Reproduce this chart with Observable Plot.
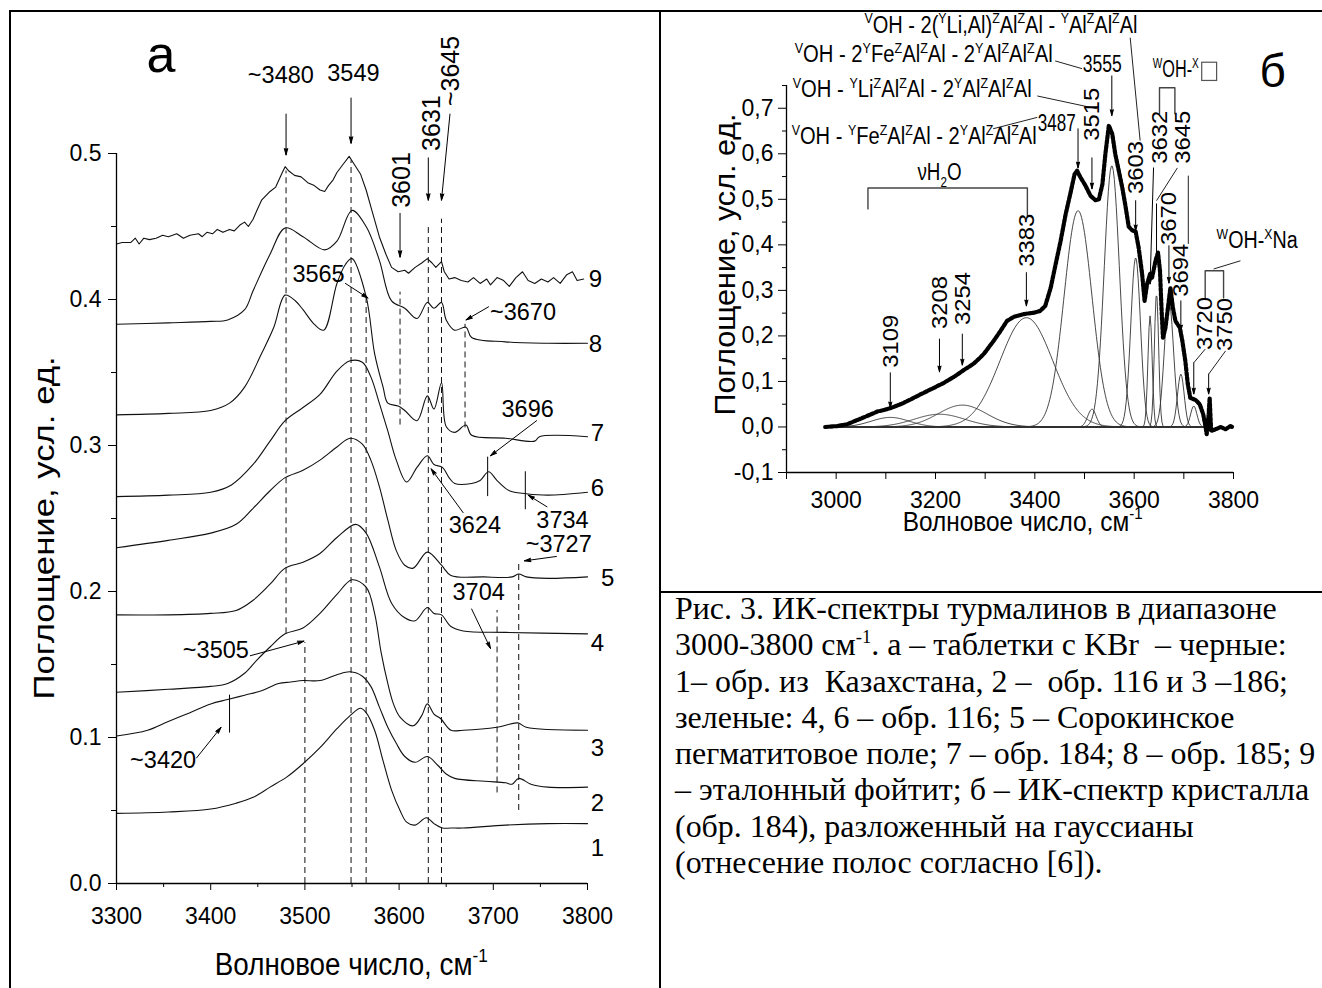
<!DOCTYPE html>
<html>
<head>
<meta charset="utf-8">
<script src="https://cdn.jsdelivr.net/npm/d3@7"></script>
<script src="https://cdn.jsdelivr.net/npm/@observablehq/plot@0.6"></script>
<style>
  body { margin: 0; background: #fff; overflow: hidden; }
  #page { position: relative; width: 1322px; height: 988px; overflow: hidden; background: #fff; }
  .rule { position: absolute; background: #000; }
  #caption {
    position: absolute; left: 675px; top: 591px;
    font-family: "Liberation Serif", "Times New Roman", serif;
    font-size: 31px; line-height: 36.3px; white-space: pre; color: #000;
    transform: scaleX(1.03); transform-origin: left top;
  }
  #caption sup { font-size: 18px; line-height: 0; vertical-align: 12px; }
</style>
</head>
<body>
<div id="page">
  <div id="caption">Рис. 3. ИК-спектры турмалинов в диапазоне
3000-3800 см<sup>-1</sup>. а – таблетки с KBr  – черные:
1– обр. из  Казахстана, 2 –  обр. 116 и 3 –186;
зеленые: 4, 6 – обр. 116; 5 – Сорокинское
пегматитовое поле; 7 – обр. 184; 8 – обр. 185; 9
– эталонный фойтит; б – ИК-спектр кристалла
(обр. 184), разложенный на гауссианы
(отнесение полос согласно [6]).</div>
</div>
<script>
// ---------- Panel а: IR spectra of tourmalines in KBr pellets (wavenumber, absorbance) ----------
const spectrum1 = [[3300,0.048],[3355,0.049],[3400,0.051],[3427,0.055],[3445,0.059],[3463,0.066],[3481,0.073],[3498,0.082],[3516,0.093],[3534,0.106],[3548,0.115],[3559,0.120],[3565,0.117],[3574,0.105],[3583,0.084],[3592,0.064],[3601,0.050],[3608,0.042],[3617,0.040],[3629,0.045],[3637,0.041],[3646,0.038],[3655,0.038],[3668,0.038],[3713,0.040],[3758,0.041],[3800,0.041]];
const spectrum2 = [[3300,0.101],[3333,0.105],[3355,0.111],[3378,0.117],[3400,0.123],[3418,0.126],[3436,0.129],[3454,0.132],[3472,0.137],[3485,0.138],[3498,0.139],[3516,0.139],[3534,0.143],[3548,0.145],[3561,0.142],[3570,0.135],[3579,0.121],[3588,0.107],[3597,0.096],[3606,0.087],[3617,0.083],[3630,0.087],[3641,0.081],[3650,0.075],[3659,0.072],[3691,0.070],[3713,0.069],[3720,0.068],[3727,0.072],[3740,0.068],[3758,0.066],[3800,0.066]];
const spectrum3 = [[3300,0.131],[3355,0.133],[3400,0.135],[3418,0.137],[3436,0.144],[3449,0.153],[3463,0.162],[3479,0.171],[3498,0.175],[3516,0.185],[3534,0.198],[3550,0.208],[3565,0.203],[3574,0.185],[3581,0.158],[3588,0.137],[3594,0.123],[3601,0.114],[3615,0.108],[3624,0.115],[3630,0.123],[3637,0.116],[3644,0.113],[3655,0.105],[3668,0.105],[3704,0.107],[3726,0.110],[3735,0.107],[3800,0.105]];
const spectrum4 = [[3300,0.184],[3355,0.184],[3400,0.185],[3427,0.187],[3445,0.194],[3463,0.205],[3479,0.216],[3498,0.220],[3516,0.226],[3534,0.237],[3554,0.246],[3565,0.240],[3579,0.217],[3592,0.192],[3606,0.182],[3617,0.180],[3630,0.189],[3637,0.185],[3645,0.184],[3655,0.176],[3668,0.173],[3713,0.172],[3800,0.171]];
const spectrum5 = [[3300,0.230],[3355,0.235],[3400,0.240],[3427,0.246],[3445,0.257],[3463,0.269],[3479,0.278],[3498,0.283],[3516,0.290],[3534,0.299],[3548,0.305],[3561,0.301],[3570,0.290],[3579,0.272],[3588,0.249],[3597,0.228],[3606,0.218],[3615,0.216],[3630,0.227],[3645,0.218],[3655,0.211],[3690,0.210],[3720,0.210],[3727,0.212],[3735,0.210],[3758,0.209],[3800,0.210]];
const spectrum6 = [[3300,0.265],[3355,0.266],[3400,0.268],[3422,0.273],[3445,0.287],[3463,0.303],[3479,0.317],[3498,0.326],[3516,0.335],[3534,0.351],[3548,0.358],[3561,0.357],[3570,0.347],[3579,0.329],[3588,0.310],[3597,0.290],[3608,0.275],[3619,0.285],[3630,0.293],[3637,0.287],[3646,0.285],[3653,0.278],[3659,0.274],[3677,0.274],[3686,0.276],[3695,0.282],[3704,0.276],[3717,0.269],[3735,0.267],[3758,0.266],[3800,0.268]];
const spectrum7 = [[3300,0.321],[3355,0.322],[3400,0.324],[3420,0.329],[3436,0.340],[3454,0.363],[3467,0.381],[3479,0.403],[3490,0.399],[3498,0.393],[3510,0.383],[3520,0.379],[3534,0.411],[3543,0.424],[3550,0.428],[3565,0.402],[3574,0.363],[3583,0.340],[3588,0.329],[3599,0.327],[3606,0.324],[3619,0.317],[3630,0.334],[3637,0.325],[3645,0.343],[3650,0.313],[3659,0.309],[3671,0.314],[3677,0.307],[3713,0.305],[3744,0.303],[3749,0.306],[3800,0.306]];
const spectrum8 = [[3300,0.383],[3355,0.384],[3400,0.385],[3418,0.386],[3436,0.393],[3445,0.406],[3463,0.431],[3479,0.449],[3498,0.443],[3521,0.434],[3534,0.440],[3550,0.461],[3565,0.450],[3579,0.427],[3592,0.399],[3606,0.394],[3619,0.387],[3630,0.398],[3637,0.394],[3645,0.398],[3650,0.386],[3659,0.379],[3671,0.381],[3677,0.374],[3713,0.371],[3758,0.370],[3800,0.370]];
const spectrum9 = [[3300,0.438],[3306,0.439],[3315,0.439],[3320,0.442],[3324,0.438],[3329,0.442],[3335,0.441],[3342,0.442],[3349,0.444],[3355,0.443],[3364,0.445],[3371,0.442],[3378,0.444],[3387,0.445],[3391,0.443],[3396,0.446],[3402,0.445],[3407,0.448],[3413,0.446],[3420,0.448],[3425,0.447],[3431,0.451],[3436,0.453],[3440,0.450],[3445,0.455],[3449,0.461],[3454,0.468],[3463,0.474],[3469,0.477],[3476,0.487],[3479,0.491],[3483,0.488],[3489,0.485],[3496,0.484],[3503,0.480],[3510,0.478],[3516,0.475],[3521,0.474],[3525,0.478],[3530,0.482],[3534,0.487],[3541,0.493],[3547,0.498],[3552,0.493],[3559,0.486],[3565,0.475],[3572,0.459],[3579,0.443],[3586,0.431],[3592,0.422],[3599,0.419],[3606,0.420],[3610,0.418],[3617,0.422],[3624,0.425],[3630,0.428],[3635,0.425],[3639,0.422],[3645,0.426],[3648,0.419],[3653,0.414],[3659,0.415],[3666,0.413],[3673,0.412],[3679,0.415],[3686,0.411],[3693,0.414],[3697,0.410],[3704,0.415],[3711,0.413],[3717,0.409],[3724,0.415],[3731,0.419],[3737,0.413],[3744,0.411],[3751,0.414],[3758,0.412],[3764,0.415],[3771,0.411],[3778,0.417],[3784,0.419],[3789,0.413],[3796,0.414]];
const spectraA = [spectrum1, spectrum2, spectrum3, spectrum4, spectrum5, spectrum6, spectrum7, spectrum8, spectrum9];
const spectrumNames = ["1", "2", "3", "4", "5", "6", "7", "8", "9"];

const xTicksA = [3300, 3400, 3500, 3600, 3700, 3800];
const xMinorA = [3350, 3450, 3550, 3650, 3750];
const yTicksA = [0, 0.1, 0.2, 0.3, 0.4, 0.5];
const yMinorA = [0.05, 0.15, 0.25, 0.35, 0.45];

// band guide lines: [wavenumber, from, to]
const guidesA = [[3480,0.171,0.488],[3500,0,0.165],[3549,0,0.495],[3565,0,0.401],[3601,0.314,0.405],[3631,0,0.452],[3645,0,0.455],[3670,0.312,0.383],[3704,0.062,0.187],[3727,0.050,0.221]];
// short solid band markers: [wavenumber, from, to]
const markersA = [[3694,0.265,0.292],[3734,0.256,0.282],[3420,0.103,0.129]];
// annotation arrows: [x1, y1, x2, y2]
const arrowsA = [[3480,0.527,3480,0.499],[3549,0.538,3549,0.507],[3601,0.459,3601,0.429],[3631,0.497,3631,0.468],[3654,0.527,3645,0.468],[3543,0.411,3567,0.401],[3695,0.395,3671,0.386],[3668,0.254,3634,0.284],[3746,0.317,3697,0.293],[3757,0.258,3737,0.266],[3767,0.224,3733,0.221],[3677,0.188,3697,0.161],[3442,0.156,3499,0.166],[3385,0.086,3411,0.107]];
// band labels: [text, x, y] (centred, on baseline)
const bandLabelsA = [["~3480",3475,0.548],["3549",3552,0.549],["3565",3515,0.4116],["~3670",3732,0.3856],["3696",3737,0.3192],["3624",3681,0.2397],["3734",3774,0.2432],["~3727",3770,0.2267],["3704",3685,0.1938],["~3505",3406,0.1541],["~3420",3350,0.0788]];
const bandLabelsUprightA = [["3601",3612,0.4815],["3631",3643.7,0.5205],["~3645",3663.9,0.5562]];
const curveLabelPos = [[3811,0.0188],[3811,0.049],[3811,0.0873],[3811,0.1592],[3822,0.2031],[3811,0.2654],[3811,0.3024],[3809,0.364],[3809,0.4085]];

// ---------- Panel б: crystal spectrum (sample 184) and its Gaussian bands ----------
const crystalSpectrum = [[2978,0.000],[3002,0.002],[3022,0.006],[3042,0.015],[3062,0.024],[3083,0.034],[3096,0.037],[3116,0.044],[3136,0.053],[3156,0.064],[3176,0.075],[3197,0.086],[3217,0.097],[3237,0.110],[3257,0.125],[3277,0.139],[3297,0.160],[3317,0.189],[3331,0.211],[3344,0.233],[3358,0.242],[3378,0.248],[3398,0.251],[3411,0.255],[3421,0.266],[3432,0.306],[3442,0.358],[3452,0.409],[3462,0.467],[3472,0.515],[3480,0.555],[3485,0.563],[3492,0.548],[3502,0.530],[3512,0.508],[3522,0.498],[3529,0.500],[3536,0.533],[3542,0.599],[3549,0.662],[3556,0.643],[3562,0.599],[3569,0.563],[3576,0.526],[3583,0.482],[3589,0.440],[3596,0.432],[3603,0.429],[3609,0.394],[3616,0.336],[3621,0.277],[3626,0.314],[3632,0.336],[3636,0.328],[3643,0.365],[3648,0.383],[3652,0.343],[3655,0.262],[3658,0.196],[3663,0.218],[3668,0.262],[3673,0.306],[3678,0.262],[3683,0.233],[3692,0.218],[3697,0.189],[3703,0.145],[3708,0.094],[3713,0.064],[3724,0.059],[3732,0.050],[3739,0.028],[3744,-0.001],[3746,-0.016],[3750,0.028],[3752,0.064],[3755,-0.009],[3764,-0.005],[3774,0.000],[3784,-0.005],[3794,0.002],[3799,-0.001]];
const bandCenters = [3109, 3208, 3254, 3383, 3487, 3515, 3555, 3603, 3632, 3645, 3670, 3694, 3720];
const bandHeights = [0.021, 0.028, 0.048, 0.240, 0.475, 0.039, 0.574, 0.372, 0.244, 0.295, 0.277, 0.116, 0.046];
const bandFwhm    = [90, 120, 115, 125, 66, 20, 36, 23, 10, 10, 22, 16, 15];

const xTicksB = [3000, 3200, 3400, 3600, 3800];
const xMinorB = [2900, 3100, 3300, 3500, 3700];
const yTicksB = [-0.1, 0, 0.1, 0.2, 0.3, 0.4, 0.5, 0.6, 0.7];
const yMinorB = [-0.05, 0.05, 0.15, 0.25, 0.35, 0.45, 0.55, 0.65, 0.75];

// arrows marking the band positions: [x1, y1, x2, y2]
const arrowsB = [[3109,0.119,3109,0.042],[3208,0.193,3208,0.121],[3254,0.204,3254,0.136],[3383,0.339,3383,0.266],[3487,0.655,3487,0.569],[3515,0.591,3515,0.523],[3555,0.771,3555,0.684],[3603,0.497,3603,0.431],[3670,0.398,3670,0.316],[3694,0.277,3694,0.211],[3639,0.569,3632,0.314],[3645,0.490,3645,0.358],[3720,0.141,3720,0.0725],[3750,0.116,3750,0.0725]];
// leader lines from assignments to bands: [x1, y1, x2, y2]
const leadersB = [[3441,0.804,3495,0.787],[3405,0.727,3525,0.699],[3316,0.655,3405,0.680],[3592,0.855,3612,0.629],[3687,0.569,3645,0.497],[3709,0.552,3709,0.402],[3743,0.171,3720,0.141],[3784,0.167,3750,0.116],[3760,0.347,3814,0.365]];
// brackets grouping bands
const bracketsB = [
  {name: "water", pts: [[3064,0.479],[3064,0.525],[3385,0.525],[3385,0.464]]},
  {name: "vacancy", pts: [[3651,0.688],[3651,0.745],[3682,0.745],[3682,0.688]]},
  {name: "sodium", pts: [[3743,0.2835],[3743,0.343],[3780,0.343],[3780,0.2835]]}
];
// band position labels written upright over their arrows: [text, x, y]
const bandLabelsB = [["3109",3109,0.187],["3208",3208,0.2725],["3254",3254,0.281],["3383",3383,0.409],["3515",3515,0.686],["3603",3603,0.569],["3670",3670,0.457],["3694",3694,0.343]];
const bandLabelsFreeB = [["3632",3666.6,0.635],["3645",3713,0.635],["3720",3757,0.226],["3750",3797,0.224]];
// site assignments ({..} superscript, [..] subscript)
const assignmentsB = [
  {text: "{V}OH - 2({Y}Li,Al){Z}Al{Z}Al - {Y}Al{Z}Al{Z}Al", x: 3058, y: 0.864, len: 273},
  {text: "{V}OH - 2{Y}Fe{Z}Al{Z}Al - 2{Y}Al{Z}Al{Z}Al", x: 2917.5, y: 0.800, len: 258},
  {text: "{V}OH - {Y}Li{Z}Al{Z}Al - 2{Y}Al{Z}Al{Z}Al", x: 2913.5, y: 0.723, len: 239},
  {text: "{V}OH - {Y}Fe{Z}Al{Z}Al - 2{Y}Al{Z}Al{Z}Al", x: 2911.5, y: 0.620, len: 245},
  {text: "3555", x: 3497.5, y: 0.778, len: 39},
  {text: "3487", x: 3407, y: 0.648, len: 38},
  {text: "{W}OH-{X}", x: 3638.5, y: 0.767, len: 46},
  {text: "{W}OH-{X}Na", x: 3767, y: 0.391, len: 81}
];
const vacancyBox = [{x1: 3737, x2: 3767, y1: 0.760, y2: 0.800}];

const SANS = 'Arial, "Liberation Sans", sans-serif';

// ---------- helpers ----------
function scaleFns(plot) {
  const mk = n => { const s = plot.scale(n); return s.apply ? v => s.apply(v) : d3.scaleLinear(s.domain, s.range); };
  return [mk("x"), mk("y")];
}
// text with {superscript} and [subscript] runs, positioned through the plot scales
function richText(plot, o) {
  const [sx, sy] = scaleFns(plot);
  const S = o.size;
  const px = sx(o.x) + (o.dx || 0), py = sy(o.y) + (o.dy || 0);
  const t = d3.select(plot).append("text")
    .attr("transform", `translate(${px},${py})` + (o.rotate ? ` rotate(${o.rotate})` : ""))
    .attr("text-anchor", o.anchor || "middle")
    .attr("font-family", o.family || SANS)
    .attr("font-size", S)
    .attr("fill", "#000");
  if (o.length) t.attr("textLength", o.length).attr("lengthAdjust", "spacingAndGlyphs");
  const re = /\{([^}]*)\}|\[([^\]]*)\]|([^{[]+)/g;
  let m, shift = 0;
  while ((m = re.exec(o.text))) {
    let target = 0, txt, small = false;
    if (m[1] !== undefined) { target = -0.42 * S; txt = m[1]; small = true; }
    else if (m[2] !== undefined) { target = 0.28 * S; txt = m[2]; small = true; }
    else { txt = m[3]; }
    const ts = t.append("tspan").attr("dy", target - shift).text(txt);
    if (small) ts.attr("font-size", 0.62 * S);
    shift = target;
  }
  return t;
}
function place(el, left, top) {
  el.style.position = "absolute";
  el.style.left = left + "px";
  el.style.top = top + "px";
  el.style.overflow = "visible";
  document.getElementById("page").appendChild(el);
}

// ---------- panel а ----------
const plotA = Plot.plot({
  width: 660, height: 988,
  marginLeft: 116, marginRight: 73, marginTop: 153, marginBottom: 105,
  x: {domain: [3300, 3800]},
  y: {domain: [0, 0.5]},
  style: {fontFamily: SANS, fontSize: "23px", color: "#000", background: "transparent"},
  marks: [
    Plot.ruleX(guidesA, {x: d => d[0], y1: d => d[1], y2: d => d[2], stroke: "#111", strokeWidth: 1, strokeDasharray: "6,4"}),
    Plot.ruleX(markersA, {x: d => d[0], y1: d => d[1], y2: d => d[2], stroke: "#000", strokeWidth: 1}),
    ...spectraA.map((s, i) => Plot.line(s, {x: d => d[0], y: d => d[1], curve: i === 8 ? "linear" : "catmull-rom", stroke: "#111", strokeWidth: 1.1})),
    Plot.arrow(arrowsA, {x1: d => d[0], y1: d => d[1], x2: d => d[2], y2: d => d[3], stroke: "#000", fill: "#000", strokeWidth: 1, headLength: 10, headAngle: 30}),
    Plot.ruleX([3300], {y1: 0, y2: 0.5, stroke: "#000", strokeWidth: 1.3}),
    Plot.ruleY([0], {x1: 3300, x2: 3800, stroke: "#000", strokeWidth: 1.3}),
    Plot.axisY(yTicksA, {tickSize: 8, tickPadding: 7, tickFormat: d => d.toFixed(1), fontSize: 23, label: null}),
    Plot.axisY(yMinorA, {tickSize: 5, tickFormat: () => "", label: null}),
    Plot.axisX(xTicksA, {tickSize: 7, tickPadding: 17, tickFormat: d => String(d), fontSize: 23, label: null}),
    Plot.axisX(xMinorA, {tickSize: 4, tickFormat: () => "", label: null})
  ]
});
place(plotA, 0, 0);
bandLabelsA.forEach(([t, x, y]) => richText(plotA, {text: t, x, y, size: 23.5}));
bandLabelsUprightA.forEach(([t, x, y]) => richText(plotA, {text: t, x, y, size: 25, rotate: -90}));
curveLabelPos.forEach(([x, y], i) => richText(plotA, {text: spectrumNames[i], x, y, size: 24}));
richText(plotA, {text: "а", x: 3347.6, y: 0.5555, size: 52});
richText(plotA, {text: "Поглощение, усл. ед.", x: 3234, y: 0.2432, size: 29, rotate: -90, length: 343});
richText(plotA, {text: "Волновое число, см{-1}", x: 3549.8, y: -0.063, size: 31, length: 273});

// ---------- panel б ----------
const gaussGrid = d3.range(2980, 3746, 2);
const bandCurves = bandCenters.flatMap((c, i) => gaussGrid.map(x => ({band: c, x, y: bandHeights[i] * Math.exp(-4 * Math.LN2 * ((x - c) / bandFwhm[i]) ** 2)})));

const plotB = Plot.plot({
  width: 662, height: 592,
  marginLeft: 126, marginRight: 89, marginTop: 85, marginBottom: 120,
  x: {domain: [2900, 3800]},
  y: {domain: [-0.1, 0.75]},
  style: {fontFamily: SANS, fontSize: "23px", color: "#000", background: "transparent"},
  marks: [
    Plot.ruleY([0], {x1: 2980, x2: 3745, stroke: "#222", strokeWidth: 1}),
    Plot.line(bandCurves, {x: "x", y: "y", z: "band", stroke: "#333", strokeWidth: 0.9}),
    Plot.line(crystalSpectrum, {x: d => d[0], y: d => d[1], stroke: "#000", strokeWidth: 4.2, strokeDasharray: "3,1.8", curve: "linear"}),
    ...bracketsB.map(b => Plot.line(b.pts, {x: d => d[0], y: d => d[1], stroke: "#444", strokeWidth: 1.4})),
    Plot.link(leadersB, {x1: d => d[0], y1: d => d[1], x2: d => d[2], y2: d => d[3], stroke: "#222", strokeWidth: 1}),
    Plot.arrow(arrowsB, {x1: d => d[0], y1: d => d[1], x2: d => d[2], y2: d => d[3], stroke: "#000", fill: "#000", strokeWidth: 1, headLength: 9, headAngle: 30}),
    Plot.rect(vacancyBox, {x1: "x1", x2: "x2", y1: "y1", y2: "y2", fill: "#fff", stroke: "#555", strokeWidth: 1.2}),
    Plot.ruleX([2900], {y1: -0.1, y2: 0.75, stroke: "#000", strokeWidth: 1.3}),
    Plot.ruleY([-0.1], {x1: 2900, x2: 3800, stroke: "#000", strokeWidth: 1.3}),
    Plot.axisY(yTicksB, {tickSize: 8, tickPadding: 5, tickFormat: d => d.toFixed(1).replace(".", ","), fontSize: 23, label: null}),
    Plot.axisY(yMinorB, {tickSize: 4, tickFormat: () => "", label: null}),
    Plot.axisX(xTicksB, {tickSize: 7, tickPadding: 12, tickFormat: d => String(d), fontSize: 23, label: null}),
    Plot.axisX(xMinorB, {tickSize: 7, tickFormat: () => "", label: null})
  ]
});
place(plotB, 660, 0);
bandLabelsB.forEach(([t, x, y]) => richText(plotB, {text: t, x, y, size: 22, rotate: -90, dx: 8, length: 53}));
bandLabelsFreeB.forEach(([t, x, y]) => richText(plotB, {text: t, x, y, size: 22, rotate: -90, length: 53}));
assignmentsB.forEach(a => richText(plotB, {text: a.text, x: a.x, y: a.y, size: 23, anchor: "start", length: a.len}));
richText(plotB, {text: "νH[2]O", x: 3209, y: 0.5407, size: 23, length: 44});
richText(plotB, {text: "б", x: 3880, y: 0.745, size: 46});
richText(plotB, {text: "Поглощение, усл. ед.", x: 2796.7, y: 0.356, size: 29, rotate: -90, length: 302});
richText(plotB, {text: "Волновое число, см{-1}", x: 3376.5, y: -0.2286, size: 28, length: 240});

// ---------- frame ----------
[[9, 10, 1313, 2], [9, 10, 2, 978], [659, 10, 2, 978], [660, 591, 662, 2]].forEach(([l, t, w, h]) => {
  const d = document.createElement("div");
  d.className = "rule";
  Object.assign(d.style, {left: l + "px", top: t + "px", width: w + "px", height: h + "px"});
  document.getElementById("page").appendChild(d);
});
</script>
</body>
</html>
